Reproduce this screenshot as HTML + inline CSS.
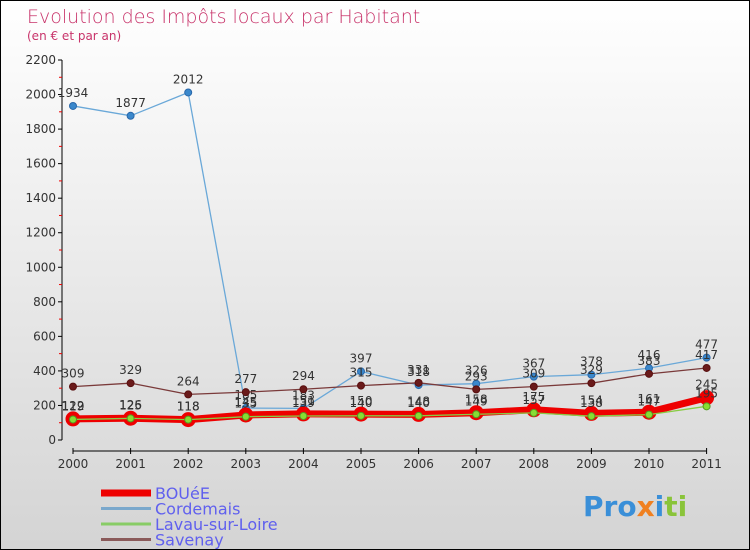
<!DOCTYPE html>
<html><head><meta charset="utf-8"><style>
body{margin:0}
#c{width:748px;height:548px;border:1px solid #000;position:relative;background:linear-gradient(#fff,#d4d4d4);font-family:"DejaVu Sans","Liberation Sans",sans-serif;overflow:hidden}
</style></head><body>
<div id="c">
<svg width="748" height="548" id="s">
<text x="26" y="22" font-size="19" fill="#c8336a" font-weight="200">Evolution des Impôts locaux par Habitant</text>
<text x="26" y="39" font-size="12" fill="#c8336a">(en € et par an)</text>
<g id="axes"></g><g id="series"></g><g id="legend"></g>
<text x="582" y="515" font-size="28" font-weight="bold" fill="#3a8fd8">Pro<tspan fill="#f08020">x</tspan><tspan fill="#3a8fd8">i</tspan><tspan fill="#8ac43a">ti</tspan></text>
</svg></div>
<script>
const years=["2000","2001","2002","2003","2004","2005","2006","2007","2008","2009","2010","2011"];
const yTicks=[0,200,400,600,800,1000,1200,1400,1600,1800,2000,2200];
const boue=[122,126,118,145,151,150,148,158,175,154,161,245];
const cordemais=[1934,1877,2012,185,183,397,318,326,367,378,416,477];
const lavau=[119,125,118,135,139,140,140,149,157,138,147,195];
const savenay=[309,329,264,277,294,315,331,293,309,329,383,417];
const NS="http://www.w3.org/2000/svg";
const X=i=>72+i*57.6, Y=v=>439-v*380/2200;
function mk(t,a,p){const e=document.createElementNS(NS,t);for(const k in a)e.setAttribute(k,a[k]);p.appendChild(e);return e;}
const ax=document.getElementById('axes');
let e=mk('line',{x1:61,y1:Y(2200),x2:61,y2:Y(0),stroke:'#000'},ax);


yTicks.forEach(v=>{mk('line',{x1:57,x2:61,y1:Y(v),y2:Y(v),stroke:'#000'},ax);
 if(v<2200)mk('line',{x1:58,x2:61,y1:Y(v+100),y2:Y(v+100),stroke:'#e00'},ax);
 const t=mk('text',{x:55,y:Y(v)+4,'text-anchor':'end','font-size':12,fill:'#333'},ax);t.textContent=v;
 
 });
e=mk('line',{x1:X(0),x2:X(11),y1:450,y2:450,stroke:'#000'},ax);


years.forEach((y,i)=>{mk('line',{x1:X(i),x2:X(i),y1:447,y2:453,stroke:'#000'},ax);
 const t=mk('text',{x:X(i),y:467,'text-anchor':'middle','font-size':12,fill:'#333'},ax);t.textContent=y;
 
 });
const sg=document.getElementById('series');
function draw(name,d,col,w,dot,dotStroke,r){
 const g=mk('g',{},sg);
 
 
 mk('polyline',{points:d.map((v,i)=>X(i)+','+Y(v)).join(' '),fill:'none',stroke:col,'stroke-width':w,'stroke-linejoin':'round'},g);
 d.forEach((v,i)=>{const c=mk('circle',{cx:X(i),cy:Y(v),r:r,fill:dot,stroke:dotStroke,'stroke-width':1},g);
  
  
  const t=mk('text',{x:X(i),y:Y(v)-9,'text-anchor':'middle','font-size':12,fill:'#333'},g);t.textContent=v;
  
  });
}
draw('cordemais',cordemais,'#6aa8d8',1.3,'#3a88cc','#2a68aa',3.5);
draw('savenay',savenay,'#7a3a3a',1.3,'#6a1a1a','#5a1010',3.5);
draw('boue',boue,'#ee0000',7,'#ee0000','#ee0000',7);
draw('lavau',lavau,'#88cc44',1.3,'#88dd33','#559922',3.5);
const lg=document.getElementById('legend');
[["BOUéE","#ee0000",7],["Cordemais","#7aa8cc",3],["Lavau-sur-Loire","#88cc66",3],["Savenay","#8a5a5a",3]].forEach((l,i)=>{
 const y=492+i*15.5;
 const g=mk('g',{},lg);
 
 
 mk('line',{x1:100,x2:150,y1:y,y2:y,stroke:l[1],'stroke-width':l[2]},g);
 const t=mk('text',{x:154,y:y+6,'font-size':16,fill:'#6060ee'},g);t.textContent=l[0];
});
</script>
</body></html>
